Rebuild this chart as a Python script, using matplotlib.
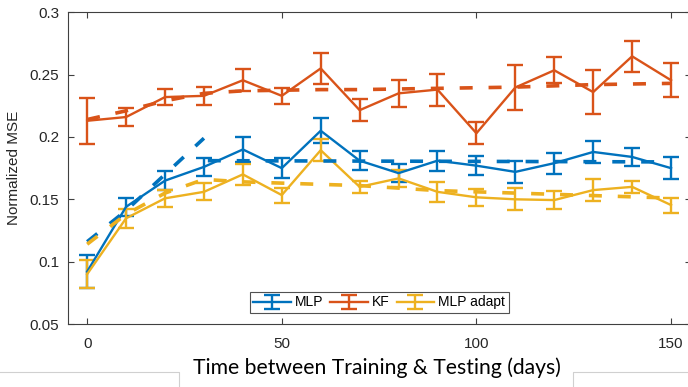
import matplotlib
matplotlib.use("Agg")
import matplotlib.pyplot as plt
from matplotlib.lines import Line2D

# ---- data ----
days = [0, 10, 20, 30, 40, 50, 60, 70, 80, 90, 100, 110, 120, 130, 140, 150]
mlp = [0.092, 0.144, 0.165, 0.176, 0.190, 0.175, 0.205, 0.181, 0.171, 0.181,
       0.177, 0.172, 0.179, 0.188, 0.184, 0.175]
mlp_err = [0.013, 0.007, 0.0075, 0.007, 0.0098, 0.008, 0.010, 0.0075, 0.007, 0.008,
           0.0076, 0.009, 0.0085, 0.009, 0.007, 0.0087]
kf = [0.213, 0.216, 0.232, 0.233, 0.2455, 0.233, 0.255, 0.2215, 0.235, 0.238,
      0.203, 0.2397, 0.2535, 0.236, 0.2647, 0.2455]
kf_err = [0.0183, 0.0073, 0.0064, 0.0073, 0.009, 0.0064, 0.0127, 0.009, 0.011, 0.0128,
          0.009, 0.0178, 0.0104, 0.0174, 0.0123, 0.0136]
ada = [0.090, 0.1348, 0.1508, 0.156, 0.170, 0.1534, 0.1894, 0.160, 0.1668, 0.156,
       0.1516, 0.150, 0.1494, 0.1574, 0.160, 0.1454]
ada_err = [0.0115, 0.0075, 0.007, 0.0067, 0.0087, 0.006, 0.0086, 0.005, 0.007, 0.008,
           0.0067, 0.0087, 0.007, 0.009, 0.005, 0.006]

# fitted (dashed) curves
mlp_fit_rise_days = [0, 10, 20, 30]
mlp_fit_rise = [0.116, 0.141, 0.170, 0.199]
mlp_fit_flat_days = [31, 150]
mlp_fit_flat = [0.181, 0.180]
kf_fit = [0.214, 0.221, 0.229, 0.235, 0.237, 0.2375, 0.238, 0.238, 0.2385, 0.239,
          0.2395, 0.240, 0.241, 0.242, 0.2425, 0.243]
ada_fit = [0.114, 0.138, 0.155, 0.166, 0.164, 0.163, 0.162, 0.161, 0.159, 0.157,
           0.156, 0.155, 0.154, 0.153, 0.152, 0.151]

labels = ["MLP", "KF", "MLP adapt"]
colors = ["#0072BD", "#D95319", "#EDB120"]
yticks = [0.05, 0.1, 0.15, 0.2, 0.25, 0.3]
ytick_labels = ["0.05", "0.1", "0.15", "0.2", "0.25", "0.3"]
xticks = [0, 50, 100, 150]

plt.rcParams['font.family'] = ['Liberation Sans', 'DejaVu Sans']

W, H = 688, 387
fig = plt.figure(figsize=(W / 100, H / 100), dpi=100)
left, right_px, top, bottom = 67.7, 690.5, 12.3, 324.0
ax = fig.add_axes([left / W, (H - bottom) / H, (right_px - left) / W, (bottom - top) / H])

sol_lw = 1.7
dash_lw = 2.6
dash = (0, (3.6, 4.4))

handles = []
for y, e, c, lab in zip([mlp, kf, ada], [mlp_err, kf_err, ada_err], colors, labels):
    h = ax.errorbar(days, y, yerr=e, color=c, lw=sol_lw, elinewidth=sol_lw,
                    capsize=5.5, capthick=sol_lw, label=lab, zorder=3)
    handles.append(h)

ax.plot(mlp_fit_rise_days, mlp_fit_rise, color=colors[0], lw=dash_lw, linestyle=dash, zorder=4)
ax.plot(mlp_fit_flat_days, mlp_fit_flat, color=colors[0], lw=dash_lw, linestyle=dash, zorder=4)
ax.plot(days, kf_fit, color=colors[1], lw=dash_lw, linestyle=dash, zorder=4)
ax.plot(days, ada_fit, color=colors[2], lw=dash_lw, linestyle=dash, zorder=4)

ax.set_xlim(-5, 155)
ax.set_ylim(0.05, 0.3)
ax.set_xticks(xticks)
ax.set_yticks(yticks)
ax.set_yticklabels(ytick_labels)
ax.tick_params(direction='in', length=4, width=0.8, colors='#404040',
               labelcolor='#262626', labelsize=11, top=True, right=True, pad=6)
ax.tick_params(axis='x', pad=9)
for s in ax.spines.values():
    s.set_color('#404040')
    s.set_linewidth(0.8)

ax.set_ylabel("Normalized MSE", fontsize=11, color='#262626', labelpad=6)

leg = ax.legend(handles=handles, loc='lower center', ncol=3, fontsize=10,
                frameon=True, fancybox=False, edgecolor='#262626',
                handlelength=2.7, handletextpad=0.3, columnspacing=0.5,
                borderpad=0.25, borderaxespad=0.8)
leg.get_frame().set_linewidth(0.8)

fig.text(377 / W, 1 - 368 / H, "Time between Training & Testing (days)",
         fontsize=15.2, family=['Lato', 'DejaVu Sans'], color='black',
         ha='center', va='center')

# faint slide box borders at the bottom
fig.add_artist(Line2D([0, 179 / W, 179 / W], [1 - 372 / H, 1 - 372 / H, 0],
                      color='#d0d0d0', lw=0.8, transform=fig.transFigure))
fig.add_artist(Line2D([1, 573 / W, 573 / W], [1 - 372 / H, 1 - 372 / H, 0],
                      color='#d0d0d0', lw=0.8, transform=fig.transFigure))

fig.savefig("out.png", dpi=100)
